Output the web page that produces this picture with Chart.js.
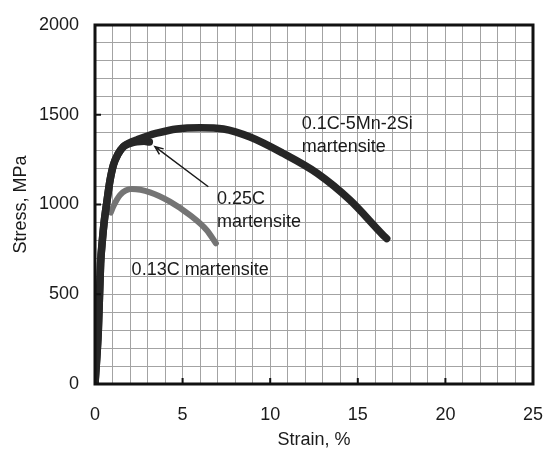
<!DOCTYPE html>
<html>
<head>
<meta charset="utf-8">
<script src="https://cdn.jsdelivr.net/npm/chart.js"></script>
<style>
  html, body { margin: 0; padding: 0; background: #fff; }
  #wrap { width: 544px; height: 449px; position: relative; }
</style>
</head>
<body>
<div id="wrap"><canvas id="stressChart"></canvas></div>
<script>
// Engineering stress-strain curves (strain in %, stress in MPa)
const strainMnSi = [0, 0.19, 0.32, 0.42, 0.52, 0.68, 0.85, 1.05, 1.3, 1.62, 2.0, 2.38, 3.0, 3.52, 4.66, 6.0, 7.33, 8.85, 10.7, 12.67, 14.55, 16.44, 16.65];
const stressMnSi = [0, 300, 672, 800, 900, 1016, 1130, 1220, 1278, 1322, 1345, 1359, 1382, 1397, 1421, 1428, 1421, 1376, 1287, 1175, 1025, 830, 810];

const strain025C = [0, 0.19, 0.32, 0.42, 0.52, 0.68, 0.85, 1.05, 1.3, 1.62, 2.0, 2.38, 2.8, 3.1];
const stress025C = [0, 300, 672, 800, 900, 1016, 1130, 1220, 1278, 1322, 1340, 1350, 1352, 1348];

const strain013C = [0.9, 1.05, 1.43, 2.1, 3.14, 4.28, 5.42, 6.37, 6.9];
const stress013C = [955, 990, 1053, 1086, 1068, 1016, 941, 858, 784];

const xTickLabels = [0, 5, 10, 15, 20, 25];
const yTickLabels = [0, 500, 1000, 1500, 2000];

const toPoints = (xs, ys) => xs.map((x, i) => ({ x: x, y: ys[i] }));

// curve names, anchored in data units (left edge, first baseline)
const curveLabels = [
    { lines: ['0.1C-5Mn-2Si', 'martensite'], x: 11.8, y: 1419 },
    { lines: ['0.25C', 'martensite'], x: 6.96, y: 1005 },
    { lines: ['0.13C martensite'], x: 2.09, y: 607 }
];
const arrow = { from: { x: 6.47, y: 1099 }, to: { x: 3.42, y: 1322 } };

const FONT = '"Liberation Sans", Arial, sans-serif';

// frame, inward ticks, curve names and the pointer arrow
const decorations = {
    id: 'decorations',
    afterDatasetsDraw(chart) {
        const { ctx, chartArea: a, scales: { x, y } } = chart;
        ctx.save();

        ctx.strokeStyle = '#111';
        ctx.lineWidth = 3;
        ctx.strokeRect(a.left, a.top, a.right - a.left, a.bottom - a.top);

        ctx.lineWidth = 2;
        ctx.beginPath();
        xTickLabels.slice(1, -1).forEach(v => {
            const px = x.getPixelForValue(v);
            ctx.moveTo(px, a.bottom);
            ctx.lineTo(px, a.bottom - 6);
        });
        yTickLabels.slice(1, -1).forEach(v => {
            const py = y.getPixelForValue(v);
            ctx.moveTo(a.left, py);
            ctx.lineTo(a.left + 6, py);
        });
        ctx.stroke();

        ctx.fillStyle = '#1a1a1a';
        ctx.font = '18px ' + FONT;
        ctx.textAlign = 'left';
        ctx.textBaseline = 'alphabetic';
        curveLabels.forEach(l => {
            const px = x.getPixelForValue(l.x);
            const py = y.getPixelForValue(l.y);
            l.lines.forEach((t, i) => ctx.fillText(t, px, py + i * 23));
        });

        const x1 = x.getPixelForValue(arrow.from.x), y1 = y.getPixelForValue(arrow.from.y);
        const x2 = x.getPixelForValue(arrow.to.x), y2 = y.getPixelForValue(arrow.to.y);
        const ang = Math.atan2(y1 - y2, x1 - x2);
        ctx.strokeStyle = '#1a1a1a';
        ctx.lineWidth = 1.5;
        ctx.beginPath();
        ctx.moveTo(x1, y1);
        ctx.lineTo(x2, y2);
        ctx.moveTo(x2 + 9 * Math.cos(ang - 0.4), y2 + 9 * Math.sin(ang - 0.4));
        ctx.lineTo(x2, y2);
        ctx.lineTo(x2 + 9 * Math.cos(ang + 0.4), y2 + 9 * Math.sin(ang + 0.4));
        ctx.stroke();

        ctx.restore();
    }
};

const curve = (data, color, width) => ({
    data: data,
    showLine: true,
    borderColor: color,
    backgroundColor: color,
    borderWidth: width,
    borderCapStyle: 'round',
    borderJoinStyle: 'round',
    cubicInterpolationMode: 'monotone',
    pointRadius: 0,
    pointHoverRadius: 0,
    fill: false
});

new Chart(document.getElementById('stressChart'), {
    type: 'scatter',
    data: {
        datasets: [
            curve(toPoints(strainMnSi, stressMnSi), '#262626', 7.5),
            curve(toPoints(strain025C, stress025C), '#262626', 7.5),
            curve(toPoints(strain013C, stress013C), '#747474', 6)
        ]
    },
    options: {
        responsive: true,
        maintainAspectRatio: false,
        animation: false,
        layout: { padding: { top: 25, right: 11, bottom: 0, left: 0 } },
        plugins: {
            legend: { display: false },
            tooltip: { enabled: false }
        },
        scales: {
            x: {
                type: 'linear',
                min: 0,
                max: 25,
                // fixed axis band; end labels may hang into the margins
                afterFit: s => { s.height = 65; s.paddingLeft = 0; s.paddingRight = 0; },
                grid: { color: '#a3a3a3', lineWidth: 1, drawTicks: false },
                border: { display: false },
                ticks: {
                    stepSize: 1,
                    autoSkip: false,
                    maxRotation: 0,
                    padding: 20,
                    color: '#1a1a1a',
                    font: { size: 18, family: FONT },
                    callback: v => xTickLabels.includes(v) ? v : ''
                },
                title: {
                    display: true,
                    text: 'Strain, %',
                    color: '#1a1a1a',
                    font: { size: 18, family: FONT, lineHeight: 1 },
                    padding: { top: 0, bottom: 0 }
                }
            },
            y: {
                type: 'linear',
                min: 0,
                max: 2000,
                afterFit: s => { s.width = 95; s.paddingTop = 0; s.paddingBottom = 0; },
                grid: { color: '#a3a3a3', lineWidth: 1, drawTicks: false },
                border: { display: false },
                ticks: {
                    stepSize: 100,
                    autoSkip: false,
                    padding: 16,
                    color: '#1a1a1a',
                    font: { size: 18, family: FONT },
                    callback: v => yTickLabels.includes(v) ? v : ''
                },
                title: {
                    display: true,
                    text: 'Stress, MPa',
                    color: '#1a1a1a',
                    font: { size: 18, family: FONT, lineHeight: 1 },
                    padding: { top: 12, bottom: 0 }
                }
            }
        }
    },
    plugins: [decorations]
});
</script>
</body>
</html>
